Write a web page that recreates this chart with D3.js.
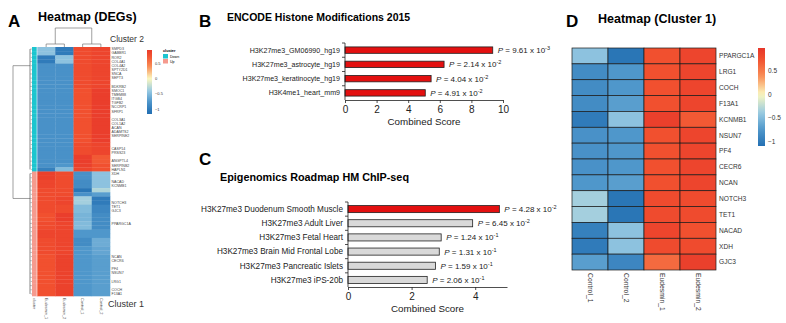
<!DOCTYPE html>
<html>
<head>
<meta charset="utf-8">
<script src="https://cdn.jsdelivr.net/npm/d3@7"></script>
<style>
  body { margin: 0; background: #fff; }
  svg { display: block; font-family: Arial, "Liberation Sans", sans-serif; }
</style>
</head>
<body>
<svg id="fig" width="786" height="323"></svg>
<script>
// ---- data ----
// panel A: heatmap of DEGs, rows given as blocks [nRows, Eudesmin_1, Eudesmin_2, Control_1, Control_2]
const aColumns = ["Eudesmin_1", "Eudesmin_2", "Control_1", "Control_2"];
const aDownBlocks = [
  [2, -0.45, -1.0, 0.8, 0.85],
  [2, -1.0, -0.45, 0.8, 0.85],
  [6, -0.8, -0.8, 0.8, 0.85],
  [13, -0.8, -0.8, 0.75, 0.92],
  [3, -0.8, -0.8, 0.8, 0.85],
  [2, -0.8, -0.8, 0.92, 0.7],
  [1, -0.8, -0.75, 0.9, 0.75],
  [1, -0.95, -0.5, 0.85, 0.75]
];
const aUpBlocks = [
  [2, 0.9, 0.8, -0.8, -0.45],
  [2, 0.85, 0.8, -0.85, -0.45],
  [1, 0.8, 0.8, -1.05, -0.3],
  [1, 0.8, 0.8, -0.8, -0.7],
  [2, 0.8, 0.85, -0.35, -1.0],
  [2, 0.8, 0.8, -0.5, -0.9],
  [2, 0.75, 0.92, -0.55, -0.85],
  [2, 0.8, 0.85, -0.5, -0.85],
  [2, 0.85, 0.85, -0.75, -0.75],
  [2, 0.8, 0.85, -0.85, -0.6],
  [2, 0.8, 0.85, -0.75, -0.65],
  [10, 0.75, 0.88, -0.75, -0.7]
];
// row labels [row index, gene]
const aLabels = [
  [0, "SMPD3"], [1, "GABBR1"], [2, "ROR2"], [3, "COL4A1"], [4, "COL4A2"], [5, "SPTY2D1"],
  [6, "SNCA"], [7, "SEPT3"], [9, "BDKRB2"], [10, "SMOC1"], [11, "TMEM88"], [12, "ITGB4"],
  [13, "TGFB2"], [14, "NCCRP1"], [15, "SFRP1"], [17, "COL3A1"], [18, "COL1A2"], [19, "ACAN"],
  [20, "ADAMTS2"], [21, "SERPINE2"], [24, "CASP14"], [25, "PRSS23"], [27, "ANGPTL4"],
  [28, "SERPINB2"], [29, "HAPLN1"],
  [30, "XDH"], [32, "NACAD"], [33, "KCNMB1"], [37, "NOTCH3"], [38, "TET1"], [39, "GJC3"],
  [42, "PPARGC1A"], [50, "NCAN"], [51, "CECR6"], [53, "PF4"], [54, "NSUN7"], [56, "LRG1"],
  [58, "COCH"], [59, "F13A1"]
];
const clusterNames = ["Down", "Up"];
const clusterColors = ["#1cc5cf", "#f59a8e"];

// panel B: ENCODE Histone Modifications 2015
const bTerms = ["H3K27me3_GM06990_hg19", "H3K27me3_astrocyte_hg19", "H3K27me3_keratinocyte_hg19", "H3K4me1_heart_mm9"];
const bScores = [9.35, 6.27, 5.45, 5.08];
const bPvals = [["9.61", "-3"], ["2.14", "-2"], ["4.04", "-2"], ["4.91", "-2"]];
const bTicks = [0, 2, 4, 6, 8, 10];

// panel C: Epigenomics Roadmap HM ChIP-seq
const cTerms = ["H3K27me3 Duodenum Smooth Muscle", "H3K27me3 Adult Liver", "H3K27me3 Fetal Heart",
  "H3K27me3 Brain Mid Frontal Lobe", "H3K27me3 Pancreatic Islets", "H3K27me3 iPS-20b"];
const cScores = [4.76, 3.92, 2.93, 2.87, 2.75, 2.49];
const cPvals = [["4.28", "-2"], ["6.45", "-2"], ["1.24", "-1"], ["1.31", "-1"], ["1.59", "-1"], ["2.06", "-1"]];
const cSignificant = [true, false, false, false, false, false];
const cTicks = [0, 2, 4];

// panel D: heatmap cluster 1
const dColumns = ["Control_1", "Control_2", "Eudesmin_1", "Eudesmin_2"];
const dGenes = ["PPARGC1A", "LRG1", "COCH", "F13A1", "KCNMB1", "NSUN7", "PF4", "CECR6", "NCAN", "NOTCH3", "TET1", "NACAD", "XDH", "GJC3"];
const dValues = [
  [-0.45, -1.05, 0.75, 0.85],
  [-0.85, -0.75, 0.75, 0.85],
  [-0.85, -0.75, 0.75, 0.85],
  [-0.85, -0.7, 0.75, 0.85],
  [-1.0, -0.45, 0.9, 0.7],
  [-0.8, -0.75, 0.75, 0.85],
  [-0.8, -0.75, 0.75, 0.85],
  [-0.8, -0.75, 0.75, 0.85],
  [-0.75, -0.7, 0.75, 0.85],
  [-0.35, -1.05, 0.8, 0.8],
  [-0.35, -1.05, 0.8, 0.8],
  [-0.95, -0.45, 0.85, 0.75],
  [-1.0, -0.45, 0.8, 0.8],
  [-0.7, -0.9, 0.6, 0.9]
];
const legendTicks = [0.5, 0, -0.5, -1];

// colour ramp (blue - yellow - red)
const heatStops = [-1.1, -0.75, -0.4, 0, 0.4, 0.75, 1.0];
const heatColors = ["#2470b3", "#4f97cb", "#97c9e2", "#fbf8bf", "#f98c55", "#f1502f", "#e6352a"];

// ---- drawing ----
const svg = d3.select("#fig");
svg.append("rect").attr("width", 786).attr("height", 323).attr("fill", "#fff");

const heat = d3.scaleLinear().domain(heatStops).range(heatColors).clamp(true);

const fmtTick = (d) => (d < 0 ? "\u2212" + Math.abs(d) : String(d));

function panelLetter(txt, x, y) {
  svg.append("text").attr("x", x).attr("y", y).attr("font-size", 17)
    .attr("font-weight", "bold").text(txt);
}
function title(txt, x, y, size) {
  svg.append("text").attr("x", x).attr("y", y).attr("font-size", size)
    .attr("font-weight", "bold").text(txt);
}

// colour bar legend
function colorBar(id, x, y0, y1, w, domain, fs) {
  const grad = svg.append("defs").append("linearGradient").attr("id", id)
    .attr("x1", 0).attr("x2", 0).attr("y1", 1).attr("y2", 0);
  d3.range(0, 1.0001, 0.05).forEach((t) => {
    const v = domain[0] + t * (domain[1] - domain[0]);
    grad.append("stop").attr("offset", t).attr("stop-color", heat(v));
  });
  svg.append("rect").attr("x", x).attr("y", y0).attr("width", w).attr("height", y1 - y0)
    .attr("fill", `url(#${id})`);
  const ly = d3.scaleLinear().domain(domain).range([y1, y0]);
  svg.append("g").selectAll("text").data(legendTicks).join("text")
    .attr("x", x + w + 3).attr("y", (d) => ly(d)).attr("dy", "0.35em")
    .attr("font-size", fs).attr("fill", "#333").text(fmtTick);
}

// ===== Panel A =====
panelLetter("A", 8, 27);
title("Heatmap (DEGs)", 38, 21, 12.5);

function expand(blocks, cluster) {
  const rows = [];
  blocks.forEach((b) => {
    for (let i = 0; i < b[0]; i++) rows.push({ cluster, values: b.slice(1) });
  });
  return rows;
}
const aRows = expand(aDownBlocks, 0).concat(expand(aUpBlocks, 1));
aRows.forEach((r, i) => (r.index = i));

const axA = d3.scaleBand().domain(aColumns).range([37, 110]);
const ayA = d3.scaleBand().domain(d3.range(aRows.length)).range([47, 296]);

const gA = svg.append("g");
gA.selectAll("g.row").data(aRows).join("g").attr("class", "row")
  .each(function (r) {
    d3.select(this).selectAll("rect").data(r.values).join("rect")
      .attr("x", (d, j) => axA(aColumns[j]))
      .attr("y", ayA(r.index))
      .attr("width", axA.bandwidth() + 0.3)
      .attr("height", ayA.bandwidth() + 0.3)
      .attr("fill", (d) => heat(d));
  });

// cluster annotation bar
gA.selectAll("rect.ann").data(aRows).join("rect").attr("class", "ann")
  .attr("x", 32).attr("y", (r) => ayA(r.index)).attr("width", 5)
  .attr("height", ayA.bandwidth() + 0.3)
  .attr("fill", (r) => clusterColors[r.cluster]);
gA.append("line").attr("x1", 37).attr("x2", 37).attr("y1", 47).attr("y2", 296)
  .attr("stroke", "#fff").attr("stroke-width", 0.6);

// row labels
gA.selectAll("text.gene").data(aLabels).join("text").attr("class", "gene")
  .attr("x", 111.5).attr("y", (d) => ayA(d[0]) + ayA.bandwidth() / 2)
  .attr("dy", "0.35em").attr("font-size", 3.6).attr("fill", "#444").text((d) => d[1]);

// column labels (rotated)
const aColLabels = [{ x: 34.5, t: "cluster" }].concat(
  aColumns.map((c) => ({ x: axA(c) + axA.bandwidth() / 2, t: c })));
gA.selectAll("text.col").data(aColLabels).join("text").attr("class", "col")
  .attr("transform", (d) => `translate(${d.x},298) rotate(90)`)
  .attr("dy", "0.35em").attr("font-size", 3.8).attr("fill", "#444").text((d) => d.t);

// column dendrogram
const dendro = gA.append("g").attr("fill", "none").attr("stroke", "#777").attr("stroke-width", 0.7);
const cx = (c) => axA(c) + axA.bandwidth() / 2;
const leftMid = (cx(aColumns[0]) + cx(aColumns[1])) / 2;
const rightMid = (cx(aColumns[2]) + cx(aColumns[3])) / 2;
dendro.append("path").attr("d",
  `M${leftMid},44 V28 H${rightMid} V44` +
  `M${cx(aColumns[0])},47 V44 H${cx(aColumns[1])} V47` +
  `M${cx(aColumns[2])},47 V44 H${cx(aColumns[3])} V47`);

// row dendrogram
const rowY = (i) => ayA(i) + ayA.bandwidth() / 2;
const nDown = d3.sum(aDownBlocks, (b) => b[0]);
dendro.append("path").attr("d", `M30,${rowY(4)} H13 V${rowY(nDown + 6)} H30`);
[[0, nDown - 1], [nDown, aRows.length - 1]].forEach(([a, b]) => {
  dendro.append("path").attr("d", `M30,${rowY(a)} V${rowY(b)}`).attr("stroke", "#555");
});
dendro.selectAll("path.leaf").data(aRows).join("path").attr("class", "leaf")
  .attr("d", (r) => `M${30 + (r.index % 3) * 0.4},${rowY(r.index)} H32`)
  .attr("stroke-width", 0.4).attr("stroke", "#666");

svg.append("text").attr("x", 110).attr("y", 42).attr("font-size", 8.5).attr("fill", "#333").text("Cluster 2");
svg.append("text").attr("x", 108).attr("y", 307).attr("font-size", 9).attr("fill", "#333").text("Cluster 1");

// legend A
colorBar("gradA", 147, 50, 114, 5, [-1.15, 0.93], 4);
svg.append("text").attr("x", 163).attr("y", 52).attr("font-size", 3.8).attr("font-weight", "bold").text("cluster");
const legA = svg.append("g").selectAll("g").data(clusterNames).join("g")
  .attr("transform", (d, i) => `translate(163,${54 + i * 5})`);
legA.append("rect").attr("width", 5).attr("height", 4.5).attr("fill", (d, i) => clusterColors[i]);
legA.append("text").attr("x", 7).attr("y", 2.3).attr("dy", "0.35em").attr("font-size", 3.6).text((d) => d);

// ===== bar charts =====
function pLabel(sel, pv) {
  sel.append("tspan").attr("font-style", "italic").text("P");
  sel.append("tspan").text(` = ${pv[0]} x 10`);
  sel.append("tspan").attr("dy", -3).attr("font-size", 5.5).text(pv[1]);
}

function barChart(opt) {
  const g = svg.append("g");
  const x = d3.scaleLinear().domain(opt.domain).range(opt.xr);
  const y = d3.scaleBand().domain(opt.terms).range(opt.yr);
  const bh = y.bandwidth() * opt.barFrac;

  g.selectAll("rect").data(opt.terms).join("rect")
    .attr("x", x(0)).attr("y", (d) => y(d) + (y.bandwidth() - bh) / 2)
    .attr("width", (d, i) => x(opt.scores[i]) - x(0)).attr("height", bh)
    .attr("fill", (d, i) => opt.fills[i]).attr("stroke", "#222").attr("stroke-width", 0.8);

  g.selectAll("text.term").data(opt.terms).join("text").attr("class", "term")
    .attr("x", x(0) - 5).attr("y", (d) => y(d) + y.bandwidth() / 2).attr("dy", "0.35em")
    .attr("text-anchor", "end").attr("font-size", opt.labelSize).attr("fill", "#222").text((d) => d);

  g.selectAll("text.p").data(opt.terms).join("text").attr("class", "p")
    .attr("x", (d, i) => x(opt.scores[i]) + 5).attr("y", (d) => y(d) + y.bandwidth() / 2 + 3)
    .attr("font-size", 8).attr("fill", "#222")
    .each(function (d, i) { pLabel(d3.select(this), opt.pvals[i]); });

  // y axis with ticks between categories
  const ya = g.append("g").attr("stroke", "#222").attr("stroke-width", 0.8);
  ya.append("line").attr("x1", x(0)).attr("x2", x(0)).attr("y1", opt.yr[0]).attr("y2", opt.yr[1]);
  ya.selectAll("line.t").data(opt.terms).join("line").attr("class", "t")
    .attr("x1", x(0) - 3).attr("x2", x(0)).attr("y1", (d) => y(d)).attr("y2", (d) => y(d));

  const xa = g.append("g").attr("transform", `translate(0,${opt.yr[1]})`)
    .call(d3.axisBottom(x).tickValues(opt.ticks).tickSize(3).tickSizeOuter(0).tickFormat(d3.format("d")));
  xa.select(".domain").attr("stroke", "#222").attr("stroke-width", 0.8);
  xa.selectAll(".tick line").attr("stroke", "#222").attr("stroke-width", 0.8);
  xa.selectAll("text").attr("font-size", 10).attr("fill", "#222")
    .attr("font-family", "Arial, 'Liberation Sans', sans-serif");
  g.append("text").attr("x", (opt.xr[0] + opt.xr[1]) / 2).attr("y", opt.yr[1] + 25)
    .attr("text-anchor", "middle").attr("font-size", 9.8).attr("fill", "#222").text("Combined Score");
}

// Panel B
panelLetter("B", 199, 27);
title("ENCODE Histone Modifications 2015", 227, 21, 10.5);
barChart({
  terms: bTerms, scores: bScores, pvals: bPvals, ticks: bTicks, labelSize: 7.1,
  domain: [0, 10], xr: [345, 503], yr: [43, 100], barFrac: 0.45,
  fills: bTerms.map(() => "#e31010")
});

// Panel C
panelLetter("C", 199, 165);
title("Epigenomics Roadmap HM ChIP-seq", 220, 181, 10.8);
barChart({
  terms: cTerms, scores: cScores, pvals: cPvals, ticks: cTicks, labelSize: 8.2,
  domain: [0, 5], xr: [348, 507], yr: [202, 287], barFrac: 0.5,
  fills: cSignificant.map((s) => (s ? "#e31010" : "#d9d9d9"))
});

// ===== Panel D =====
panelLetter("D", 566, 27);
title("Heatmap (Cluster 1)", 598, 23, 12.5);

const axD = d3.scaleBand().domain(dColumns).range([572, 716]);
const ayD = d3.scaleBand().domain(dGenes).range([48, 270]);
const gD = svg.append("g");
gD.selectAll("g").data(dGenes).join("g").each(function (gene, i) {
  d3.select(this).selectAll("rect").data(dValues[i]).join("rect")
    .attr("x", (d, j) => axD(dColumns[j])).attr("y", ayD(gene))
    .attr("width", axD.bandwidth()).attr("height", ayD.bandwidth())
    .attr("fill", (d) => heat(d)).attr("stroke", "#1a1a1a").attr("stroke-width", 0.7);
});
gD.selectAll("text.gene").data(dGenes).join("text").attr("class", "gene")
  .attr("x", 719).attr("y", (d) => ayD(d) + ayD.bandwidth() / 2).attr("dy", "0.35em")
  .attr("font-size", 6.6).attr("fill", "#333").text((d) => d);
gD.selectAll("text.col").data(dColumns).join("text").attr("class", "col")
  .attr("transform", (d) => `translate(${axD(d) + axD.bandwidth() / 2},273) rotate(90)`)
  .attr("dy", "0.35em").attr("font-size", 6.8).attr("fill", "#333").text((d) => d);

colorBar("gradD", 758, 48, 146, 7, [-1.1, 0.99], 6.5);
</script>
</body>
</html>
